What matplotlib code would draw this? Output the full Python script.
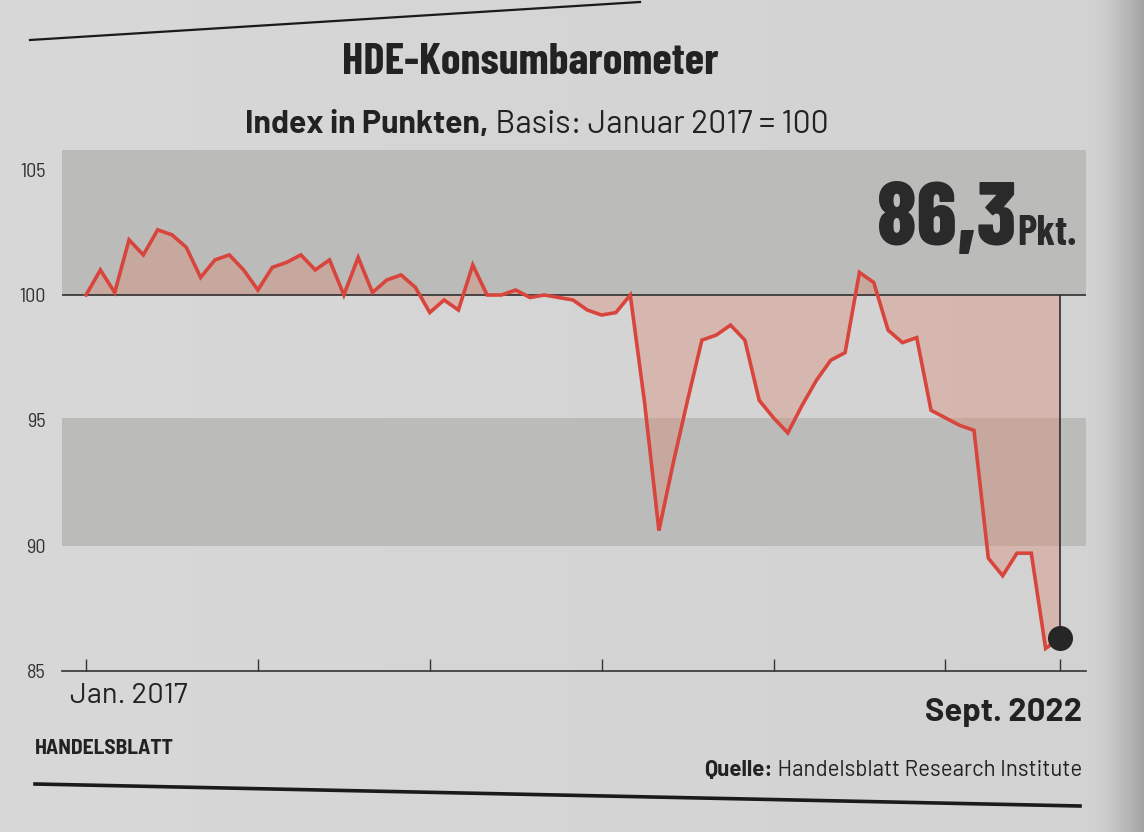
import numpy as np
import pandas as pd
import matplotlib
matplotlib.use("Agg")
import matplotlib.pyplot as plt
from matplotlib.lines import Line2D
import matplotlib.transforms as mtransforms

COND = ['Barlow Condensed', 'DejaVu Sans']
SEMI = ['Barlow Semi Condensed', 'DejaVu Sans']
WIDE = ['Barlow', 'Barlow Semi Condensed', 'DejaVu Sans']
plt.rcParams['font.family'] = COND

# HDE-Konsumbarometer, Index (Januar 2017 = 100), monatlich
months = pd.period_range('2017-01', '2022-09', freq='M')
values_2017 = [100.0, 101.0, 100.1, 102.2, 101.6, 102.6, 102.4, 101.9, 100.7, 101.4, 101.6, 101.0]
values_2018 = [100.2, 101.1, 101.3, 101.6, 101.0, 101.4, 100.0, 101.5, 100.1, 100.6, 100.8, 100.3]
values_2019 = [99.3, 99.8, 99.4, 101.2, 100.0, 100.0, 100.2, 99.9, 100.0, 99.9, 99.8, 99.4]
values_2020 = [99.2, 99.3, 100.0, 95.7, 90.6, 93.3, 95.8, 98.2, 98.4, 98.8, 98.2, 95.8]
values_2021 = [95.1, 94.5, 95.6, 96.6, 97.4, 97.7, 100.9, 100.5, 98.6, 98.1, 98.3, 95.4]
values_2022 = [95.1, 94.8, 94.6, 89.5, 88.8, 89.7, 89.7, 85.9, 86.3]
values = np.array(values_2017 + values_2018 + values_2019 + values_2020 + values_2021 + values_2022)

basis = 100
y_ticks = [85, 90, 95, 100, 105]
bands = [(100, 105.8), (90, 95.1)]
first_label = 'Jan. 2017'
last_label = 'Sept. 2022'
last_value_text = '86,3'

W, H = 1144, 832
RED = '#d8453d'
FILL = '#db8d7a'
BAND = '#bbbbb9'
INK = '#222222'

fig = plt.figure(figsize=(W / 100, H / 100), dpi=100)

# paper background with darker right edge like the photo
bg = fig.add_axes([0, 0, 1, 1], zorder=-10)
px = np.arange(W)
shade = 216 - 6 * px / W - 48 * np.clip((px - 1092) / 52, 0, 1) ** 1.4
img = np.repeat(shade[None, :, None], 3, axis=2) / 255
bg.imshow(img, aspect='auto', extent=(0, 1, 0, 1))
bg.set_axis_off()

ax = fig.add_axes([62 / W, 1 - 671 / H, (1086 - 62) / W, (671 - 144.6) / H])
ax.set_facecolor('none')

x = np.arange(len(months))
ax.set_xlim(-1.68, len(months) - 1 + 1.82)
ax.set_ylim(85, 106)

for lo, hi in bands:
    ax.axhspan(lo, hi, color=BAND, lw=0, zorder=0)

ax.fill_between(x, values, basis, color=FILL, alpha=0.4, lw=0, zorder=1)
ax.axhline(basis, color=INK, lw=1.1, zorder=2)
ax.plot(x, values, color=RED, lw=2.6, solid_joinstyle='miter', zorder=3)
ax.vlines(x[-1], values[-1], basis, color=INK, lw=1.1, zorder=2)
ax.plot(x[-1], values[-1], 'o', ms=17, color='#262626', zorder=5)

# axes
for s in ['top', 'right', 'left']:
    ax.spines[s].set_visible(False)
ax.spines['bottom'].set_linestyle((0, (1, 1)))
ax.spines['bottom'].set_color('#333333')
ax.spines['bottom'].set_linewidth(1.2)

tick_pos = [i for i, m in enumerate(months) if m.month == 1] + [len(months) - 1]
ax.set_xticks(tick_pos)
ax.set_xticklabels([])
ax.tick_params(axis='x', direction='in', length=9, width=1, color='#333333')
ax.set_yticks(y_ticks)
ax.set_yticklabels([str(v) for v in y_ticks], family=SEMI)
ax.tick_params(axis='y', length=0, pad=12, labelsize=14.5, labelcolor='#333333')

# big value label in the top band
trans = mtransforms.blended_transform_factory(ax.transAxes, ax.transData)
pkt = ax.text(0.991, 102.0, 'Pkt.', transform=trans, ha='right', va='baseline',
              fontsize=30, weight='bold', color='#2a2a2a', zorder=6)
fig.canvas.draw()
r = fig.canvas.get_renderer()
pb = pkt.get_window_extent(r)
px_left = ax.transAxes.inverted().transform((pb.x0, pb.y0))[0]
ax.text(px_left - 0.001, 102.0, last_value_text, transform=trans, ha='right', va='baseline',
        fontsize=64, weight='heavy', color='#2a2a2a', zorder=6)


def fig_xy(xp, yp):
    return xp / W, 1 - yp / H


def two_part(bold, regular, xp, yp, size, align, family):
    t1 = fig.text(0, 0, bold, fontsize=size, weight='bold', va='baseline', color=INK, family=family)
    t2 = fig.text(0, 0, regular, fontsize=size, va='baseline', color=INK, family=family)
    w1 = t1.get_window_extent(r).width
    w2 = t2.get_window_extent(r).width
    x0 = xp - (w1 + w2) / 2 if align == 'center' else xp - (w1 + w2)
    t1.set_position(fig_xy(x0, yp))
    t2.set_position(fig_xy(x0 + w1, yp))


fig.text(*fig_xy(530, 74), 'HDE-Konsumbarometer', ha='center', va='baseline',
         fontsize=32, weight='bold', color=INK)
two_part('Index in Punkten,', ' Basis: Januar 2017 = 100', 537, 133, 23, 'center', WIDE)

fig.text(*fig_xy(70, 703), first_label, ha='left', va='baseline', fontsize=21,
         color=INK, family=WIDE)
fig.text(*fig_xy(1082, 721), last_label, ha='right', va='baseline', fontsize=23.5,
         weight='bold', color=INK, family=WIDE)
fig.text(*fig_xy(35, 754), 'HANDELSBLATT', ha='left', va='baseline', fontsize=15.5,
         weight='bold', color=INK, family=SEMI)
two_part('Quelle:', ' Handelsblatt Research Institute', 1082, 776, 16, 'right', WIDE)

# rules at top and bottom of the graphic
fig.add_artist(Line2D([30 / W, 640 / W], [1 - 40 / H, 1 - 2 / H], color='#1a1a1a', lw=1.6))
fig.add_artist(Line2D([35 / W, 1080 / W], [1 - 784 / H, 1 - 806 / H], color='#1a1a1a', lw=2.6))

fig.savefig('out.png', dpi=100)
